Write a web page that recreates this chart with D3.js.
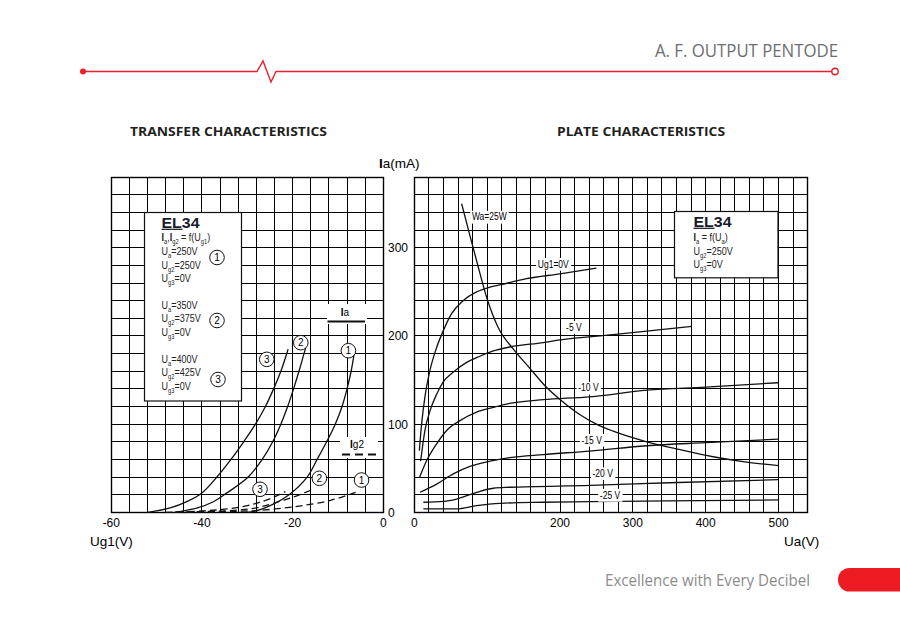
<!DOCTYPE html>
<html><head><meta charset="utf-8">
<script src="https://cdn.jsdelivr.net/npm/d3@7"></script>
<style>
html,body{margin:0;padding:0;background:#fff;}
svg{display:block;}
</style></head>
<body>
<svg id="c" width="900" height="618"></svg>
<script>
// ---------- DATA ----------
const transferTicks = [-60, -40, -20, 0];
const plateTicks = [0, 200, 300, 400, 500];
const iaTicks = [0, 100, 200, 300];

// Transfer characteristics: Ia = f(Ug1)
const ia1 = [[-30,0],[-28.5,1],[-25.2,7],[-20.8,20],[-16.8,40],[-14.6,60],[-12.5,80],[-10.6,100],[-9.1,120],[-8,140],[-7.1,160],[-6.3,184]];
const ia2 = [[-46,0],[-41,5],[-37.5,12],[-34.5,22],[-29.8,40],[-26.7,60],[-24.4,80],[-22.6,100],[-21.1,120],[-19.8,140],[-18.6,160],[-17.1,187]];
const ia3 = [[-52,0],[-47,5],[-43,13],[-40,22],[-36.7,40],[-33.6,60],[-30.8,80],[-28.2,100],[-26,120],[-24.2,140],[-22.6,160],[-21,185]];
// Ig2 = f(Ug1)
const ig1 = [[-46,0],[-36,0.8],[-28,2],[-19,6.8],[-11.6,13.6],[-6.1,22.7]];
const ig2 = [[-46,0],[-38,1],[-32,2.5],[-28,5],[-24,10.6],[-20,17],[-16,25]];
const ig3 = [[-48,0],[-40,1.5],[-34,4],[-30,7.5],[-27.5,11],[-24.2,17],[-21.6,23.5]];

// Plate characteristics: Ia = f(Ua)
const ug0 = [[6.9,70],[10,100],[14.6,131],[21.5,161],[30.7,187],[39.8,206],[51,225],[67,240],[85.6,250],[104,255.5],[117.6,258],[154,265],[200,270.5],[250,277]];
const ug5 = [[8.7,58],[14.6,93],[21.5,115],[30.7,134],[39.8,148],[53.5,159],[71.8,170],[90,177],[108.5,183],[131,187.5],[177,192.5],[200,195.5],[273,201.5],[381,211]];
const ug10 = [[6.9,39],[17,58.7],[30.7,77.7],[44.4,92.8],[62.7,104],[85.6,113.6],[108.5,119],[131,123.5],[177,127.7],[241,131],[319,138.5],[400,142],[500,147]];
const ug15 = [[7.8,22.7],[30.7,32],[53.5,43.6],[76.4,52],[104,58],[131,62],[177,65.5],[241,69.5],[319,75.5],[400,79],[500,83]];
const ug20 = [[12.4,11.4],[39.8,12.3],[58,15],[85.6,22.7],[108.5,27.3],[131,28.4],[241,30.5],[350,33.5],[500,37]];
const ug25 = [[12.4,3.8],[58,3.8],[85.6,7.6],[117.6,10.2],[177,11.4],[241,12.1],[350,13],[500,14]];
const wa25 = [[65,350],[75,318],[85,287],[100,242],[115,210],[136,185],[159,163],[180,143],[200,128],[227,111],[250,100],[273,92],[319,80],[365,71],[410,63],[456,57],[500,53]];

const plateCurves = [ug0, ug5, ug10, ug15, ug20, ug25, wa25];
const plateLabels = ["Ug1=0V", "-5 V", "-10 V", "-15 V", "-20 V", "-25 V", "Wa=25W"];
const plateLabelAt = [[190.8,281.6],[219,210],[239,141],[243.5,82],[258.6,44],[268.6,19.6],[103,335]];

const iaCurves = [ia1, ia2, ia3];
const igCurves = [ig1, ig2, ig3];
const curveNums = ["1", "2", "3"];
const iaNumAt = [[-7.7,183.3],[-18.2,192.4],[-25.7,173.5]];
const igNumAt = [[-4.8,36.6],[-14.1,38.6],[-27.2,26.1]];

// ---------- DRAW ----------
const svg = d3.select("#c");
const RED = "#e8202a";
svg.append("rect").attr("width",900).attr("height",618).attr("fill","#fff");

// header
svg.append("path").attr("d","M83,71.5 H257 L263,61 L271,82 L276,71.5 H832")
  .attr("fill","none").attr("stroke",RED).attr("stroke-width",1.4);
svg.append("circle").attr("cx",83).attr("cy",71.5).attr("r",3).attr("fill",RED);
svg.append("circle").attr("cx",835).attr("cy",71.5).attr("r",3.2).attr("fill","#fff").attr("stroke",RED).attr("stroke-width",1.4);
svg.append("text").attr("x",838).attr("y",57).attr("text-anchor","end")
  .attr("font-family","Open Sans").attr("font-size",18).attr("fill","#6d6e71")
  .attr("textLength",183).attr("lengthAdjust","spacingAndGlyphs").text("A. F. OUTPUT PENTODE");

// footer
svg.append("text").attr("x",605).attr("y",586)
  .attr("font-family","Open Sans").attr("font-size",15.5).attr("fill","#8c8c8c")
  .attr("textLength",205).attr("lengthAdjust","spacingAndGlyphs").text("Excellence with Every Decibel");
svg.append("rect").attr("x",838).attr("y",568).attr("width",90).attr("height",23.5).attr("rx",11.5).attr("fill","#ed1c24");

// titles
svg.append("text").attr("x",130).attr("y",135.5).attr("font-family","Open Sans").attr("font-weight","bold")
  .attr("font-size",12).attr("fill","#231f20").attr("textLength",197).attr("lengthAdjust","spacingAndGlyphs").text("TRANSFER CHARACTERISTICS");
svg.append("text").attr("x",557).attr("y",135.5).attr("font-family","Open Sans").attr("font-weight","bold")
  .attr("font-size",12).attr("fill","#231f20").attr("textLength",168).attr("lengthAdjust","spacingAndGlyphs").text("PLATE CHARACTERISTICS");

// scales
const yI = d3.scaleLinear().domain([0,380]).range([512.3,177.3]);
const xL = d3.scaleLinear().domain([-60,0]).range([111.3,383.3]);
const xR = d3.scaleLinear().domain([0,540]).range([414.3,807.7]);
const snap = v => Math.floor(v) + 0.5;

function grid(x, xs) {
  const g = svg.append("g").attr("stroke","#000").attr("stroke-width",1);
  const x0 = snap(x.range()[0]), x1 = snap(x.range()[1]);
  const y0 = snap(yI(0)), y1 = snap(yI(380));
  xs.forEach(v => g.append("line").attr("x1",snap(x(v))).attr("x2",snap(x(v))).attr("y1",y0).attr("y2",y1));
  d3.range(0,380.1,20).forEach(v => g.append("line").attr("x1",x0).attr("x2",x1).attr("y1",snap(yI(v))).attr("y2",snap(yI(v))));
  g.append("rect").attr("x",x0).attr("y",y1).attr("width",x1-x0).attr("height",y0-y1).attr("fill","none").attr("stroke-width",1.4);
}
grid(xL, d3.range(-60,0.01,4));
grid(xR, d3.range(0,540.1,20));

const FONT = "Liberation Sans, Arial, sans-serif";
// axis labels
const lblL = svg.append("g").attr("font-family",FONT).attr("font-size",12).attr("fill","#000").attr("text-anchor","middle");
transferTicks.forEach(v => lblL.append("text").attr("x",xL(v)).attr("y",527).text(v));
plateTicks.forEach(v => lblL.append("text").attr("x",xR(v)).attr("y",527).text(v));
const lblY = svg.append("g").attr("font-family",FONT).attr("font-size",12).attr("fill","#000");
iaTicks.forEach(v => lblY.append("text").attr("x",388).attr("y",yI(v)+4.5).text(v));
svg.append("text").attr("x",379).attr("y",168).attr("font-family",FONT).attr("font-size",13.5).html('<tspan font-weight="bold">I</tspan>a(mA)');
svg.append("text").attr("x",90).attr("y",546).attr("font-family",FONT).attr("font-size",13.5).text("Ug1(V)");
svg.append("text").attr("x",784).attr("y",546).attr("font-family",FONT).attr("font-size",13.5).text("Ua(V)");

// curves
const lineL = d3.line().x(d=>xL(d[0])).y(d=>yI(d[1])).curve(d3.curveCatmullRom.alpha(0.5));
const lineR = d3.line().x(d=>xR(d[0])).y(d=>yI(d[1])).curve(d3.curveMonotoneX);
iaCurves.forEach(c => svg.append("path").attr("d",lineL(c)).attr("fill","none").attr("stroke","#111").attr("stroke-width",1.3));
igCurves.forEach(c => svg.append("path").attr("d",lineL(c)).attr("fill","none").attr("stroke","#111").attr("stroke-width",1.3).attr("stroke-dasharray","7,4"));
plateCurves.forEach(c => svg.append("path").attr("d",lineR(c)).attr("fill","none").attr("stroke","#111").attr("stroke-width",1.3));

// plate labels
plateLabels.forEach((t,i) => {
  const [v,a] = plateLabelAt[i];
  const g = svg.append("g").attr("transform",`translate(${xR(v)},${yI(a)}) scale(0.85,1)`);
  const tx = g.append("text").attr("text-anchor","middle").attr("y",3.5).attr("font-family",FONT).attr("font-size",10).text(t);
  const bb = tx.node().getBBox();
  g.insert("rect","text").attr("x",bb.x-2).attr("y",bb.y-1).attr("width",bb.width+4).attr("height",bb.height+2).attr("fill","#fff");
});

// circled numbers
function circNum(cx, cy, t) {
  svg.append("circle").attr("cx",cx).attr("cy",cy).attr("r",7.3).attr("fill","#fff").attr("stroke","#111").attr("stroke-width",1);
  svg.append("text").attr("x",cx).attr("y",cy+3.6).attr("text-anchor","middle").attr("font-family",FONT).attr("font-size",10).text(t);
}
curveNums.forEach((n,i) => {
  circNum(xL(iaNumAt[i][0]), yI(iaNumAt[i][1]), n);
  circNum(xL(igNumAt[i][0]), yI(igNumAt[i][1]), n);
});

// Ia / Ig2 keys
svg.append("rect").attr("x",327).attr("y",304).attr("width",40).attr("height",20).attr("fill","#fff");
svg.append("text").attr("x",345).attr("y",315.5).attr("text-anchor","middle").attr("font-family",FONT).attr("font-size",10).html('<tspan font-weight="bold">I</tspan>a');
svg.append("line").attr("x1",327.5).attr("x2",365).attr("y1",321.5).attr("y2",321.5).attr("stroke","#111").attr("stroke-width",2);
svg.append("rect").attr("x",340).attr("y",437).attr("width",38).attr("height",21).attr("fill","#fff");
svg.append("text").attr("x",357).attr("y",447.5).attr("text-anchor","middle").attr("font-family",FONT).attr("font-size",10).html('<tspan font-weight="bold">I</tspan>g2');
svg.append("line").attr("x1",342).attr("x2",378).attr("y1",454.5).attr("y2",454.5).attr("stroke","#111").attr("stroke-width",2).attr("stroke-dasharray","8,5");

// legend boxes
function rich(x, y, parts) {
  const g = svg.append("g").attr("transform",`translate(${x},${y}) scale(0.82,1)`);
  const t = g.append("text").attr("font-family",FONT).attr("font-size",11).attr("fill","#222");
  let sub = false;
  parts.forEach(p => {
    const s = t.append("tspan").text(p[0]);
    if (p[1]==="s") { s.attr("font-size",7).attr("dy",sub?0:3); sub = true; }
    else { if (sub) s.attr("dy",-3); sub = false; if (p[1]==="b") s.attr("font-weight","bold"); }
  });
}
function title(x, y) {
  svg.append("text").attr("x",x).attr("y",y).attr("font-family",FONT).attr("font-weight","900").attr("font-size",15.5)
    .attr("fill","#1a1a2e").attr("textLength",38).attr("lengthAdjust","spacingAndGlyphs").text("EL34");
  svg.append("line").attr("x1",x).attr("x2",x+21).attr("y1",y+1.8).attr("y2",y+1.8).attr("stroke","#111").attr("stroke-width",1.2);
}
svg.append("rect").attr("x",144.5).attr("y",212.5).attr("width",97).attr("height",188.5).attr("fill","#fff").attr("stroke","#111").attr("stroke-width",1.2);
title(161.5, 227.5);
rich(161.5, 241, [["I","b"],["a","s"],[","],["I","b"],["g2","s"],[" = f(U"],["g1","s"],[")"]]);
const legendRows = [
  [255,[["U"],["a","s"],["=250V"]]],[269,[["U"],["g2","s"],["=250V"]]],[282,[["U"],["g3","s"],["=0V"]]],
  [309,[["U"],["a","s"],["=350V"]]],[322,[["U"],["g2","s"],["=375V"]]],[336,[["U"],["g3","s"],["=0V"]]],
  [363,[["U"],["a","s"],["=400V"]]],[376,[["U"],["g2","s"],["=425V"]]],[390,[["U"],["g3","s"],["=0V"]]]
];
legendRows.forEach(r => rich(161.5, r[0], r[1]));
circNum(217, 257.5, "1");
circNum(217, 320.5, "2");
circNum(218, 379.5, "3");

svg.append("rect").attr("x",674.5).attr("y",211.5).attr("width",103.5).attr("height",66.3).attr("fill","#fff").attr("stroke","#111").attr("stroke-width",1.2);
title(693.5, 226.5);
rich(693.5, 241, [["I","b"],["a","s"],[" = f(U"],["a","s"],[")"]]);
rich(693.5, 255, [["U"],["g2","s"],["=250V"]]);
rich(693.5, 268, [["U"],["g3","s"],["=0V"]]);
</script>
</body></html>
